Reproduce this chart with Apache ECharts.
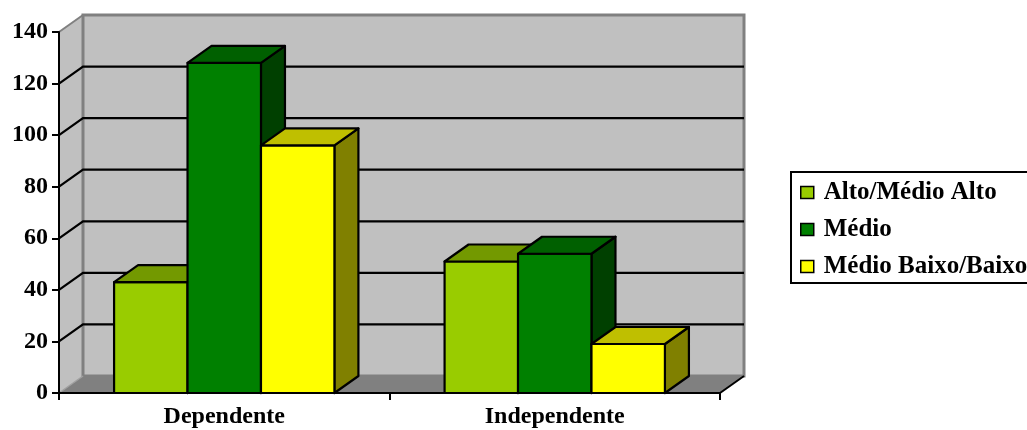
<!DOCTYPE html>
<html>
<head>
<meta charset="utf-8">
<title>Dependente / Independente</title>
<script src="https://cdn.jsdelivr.net/npm/echarts@6/dist/echarts.min.js"></script>
<style>
  html, body { margin: 0; padding: 0; background: #ffffff; }
  #chart { width: 1027px; height: 430px; }
</style>
</head>
<body>
<div id="chart"></div>
<script>
// Categories and series values
const categories = ['Dependente', 'Independente'];
const altoMedioAlto = [43, 51];
const medio = [128, 54];
const medioBaixoBaixo = [96, 19];
// Value axis ticks
const yMin = 0;
const yMax = 140;
const yStep = 20;
const gridValues = [20, 40, 60, 80, 100, 120];

// Depth of the 3D box (pixels, to the right and up)
const DX = 24;
const DY = -17;
const FONT = '"Liberation Serif", "Times New Roman", serif';

function shade(hex, f) {
  const n = parseInt(hex.slice(1), 16);
  const r = Math.round(((n >> 16) & 255) * f);
  const g = Math.round(((n >> 8) & 255) * f);
  const b = Math.round((n & 255) * f);
  return 'rgb(' + r + ',' + g + ',' + b + ')';
}

// Walls, floor and gridlines of the 3D plot area
function renderWalls(params, api) {
  const cs = params.coordSys;
  const x0 = cs.x, x1 = cs.x + cs.width;
  const yT = cs.y, yB = cs.y + cs.height;
  const children = [];
  children.push({ type: 'polygon', shape: { points: [[x0, yB], [x0, yT], [x0 + DX, yT + DY], [x0 + DX, yB + DY]] },
    style: { fill: '#c0c0c0', stroke: null } });
  children.push({ type: 'rect', shape: { x: x0 + DX, y: yT + DY, width: x1 - x0, height: yB - yT },
    style: { fill: '#c0c0c0', stroke: '#808080', lineWidth: 3 } });
  children.push({ type: 'polyline', shape: { points: [[x0, yT], [x0 + DX, yT + DY]] },
    style: { stroke: '#808080', lineWidth: 2, fill: null } });
  children.push({ type: 'polygon', shape: { points: [[x0, yB], [x0 + DX, yB + DY], [x1 + DX, yB + DY], [x1, yB]] },
    style: { fill: '#808080', stroke: null } });
  children.push({ type: 'polyline', shape: { points: [[x0, yB], [x0 + DX, yB + DY]] },
    style: { stroke: '#a0a0a0', lineWidth: 1.5, fill: null } });
  children.push({ type: 'polyline', shape: { points: [[x1, yB], [x1 + DX, yB + DY]] },
    style: { stroke: '#000', lineWidth: 2, fill: null } });
  gridValues.forEach(function (v) {
    const y = api.coord([0, v])[1];
    children.push({ type: 'polyline', shape: { points: [[x0, y], [x0 + DX, y + DY], [x1 + DX, y + DY]] },
      style: { stroke: '#000', lineWidth: 2.2, fill: null } });
  });
  return { type: 'group', children: children };
}

// One 3D column: front face, top face and right side face
function barRenderer(slot, color) {
  return function (params, api) {
    const top = api.coord([api.value(0), api.value(1)]);
    const base = api.coord([api.value(0), 0]);
    const catW = api.size([1, 0])[0];
    const bw = catW / 1.5 / 3;
    const left = top[0] - 1.5 * bw + slot * bw;
    const right = left + bw;
    const yT = top[1], yB = base[1];
    const line = { stroke: '#000', lineWidth: 2.2, lineJoin: 'round' };
    return {
      type: 'group',
      children: [
        { type: 'polygon', shape: { points: [[right, yT], [right + DX, yT + DY], [right + DX, yB + DY], [right, yB]] },
          style: Object.assign({ fill: shade(color, 0.5) }, line) },
        { type: 'rect', shape: { x: left, y: yT, width: bw, height: yB - yT },
          style: Object.assign({ fill: color }, line) },
        { type: 'polygon', shape: { points: [[left, yT], [right, yT], [right + DX, yT + DY], [left + DX, yT + DY]] },
          style: Object.assign({ fill: shade(color, 0.75) }, line) }
      ]
    };
  };
}

const seriesDefs = [
  { name: 'Alto/Médio Alto', values: altoMedioAlto, color: '#99cc00' },
  { name: 'Médio', values: medio, color: '#008000' },
  { name: 'Médio Baixo/Baixo', values: medioBaixoBaixo, color: '#ffff00' }
];

const series = [{
  type: 'custom',
  name: 'walls',
  z: 1,
  silent: true,
  renderItem: renderWalls,
  data: [[0, 0]]
}];
seriesDefs.forEach(function (s, i) {
  series.push({
    type: 'custom',
    name: s.name,
    z: 2,
    itemStyle: { color: s.color },
    renderItem: barRenderer(i, s.color),
    encode: { x: 0, y: 1 },
    data: categories.map(function (c, k) { return [k, s.values[k]]; })
  });
});

const chart = echarts.init(document.getElementById('chart'), null, { renderer: 'canvas' });
chart.setOption({
  animation: false,
  backgroundColor: '#ffffff',
  grid: { left: 59, right: 307, top: 32, bottom: 37, containLabel: false },
  xAxis: {
    type: 'category',
    data: categories,
    boundaryGap: true,
    z: 10,
    axisLine: { show: true, lineStyle: { color: '#000', width: 2 } },
    axisTick: { show: true, alignWithLabel: false, length: 7, lineStyle: { color: '#000', width: 2 } },
    axisLabel: { color: '#000', fontFamily: FONT, fontWeight: 'bold', fontSize: 24, margin: 12 },
    splitLine: { show: false }
  },
  yAxis: {
    type: 'value',
    min: yMin,
    max: yMax,
    interval: yStep,
    z: 10,
    axisLine: { show: true, lineStyle: { color: '#000', width: 2 } },
    axisTick: { show: true, length: 7, lineStyle: { color: '#000', width: 2 } },
    axisLabel: { color: '#000', fontFamily: FONT, fontWeight: 'bold', fontSize: 24, margin: 11 },
    splitLine: { show: false }
  },
  legend: {
    orient: 'vertical',
    left: 791,
    top: 172,
    data: seriesDefs.map(function (s) { return s.name; }),
    icon: 'rect',
    itemWidth: 13,
    itemHeight: 12,
    itemGap: 12,
    padding: [8, 10, 4, 9],
    borderColor: '#000',
    borderWidth: 2,
    backgroundColor: '#ffffff',
    itemStyle: { borderColor: '#000', borderWidth: 1.5 },
    textStyle: { color: '#000', fontFamily: FONT, fontWeight: 'bold', fontSize: 25, lineHeight: 24, padding: [0, 0, 0, 5] }
  },
  series: series
});
</script>
</body>
</html>
